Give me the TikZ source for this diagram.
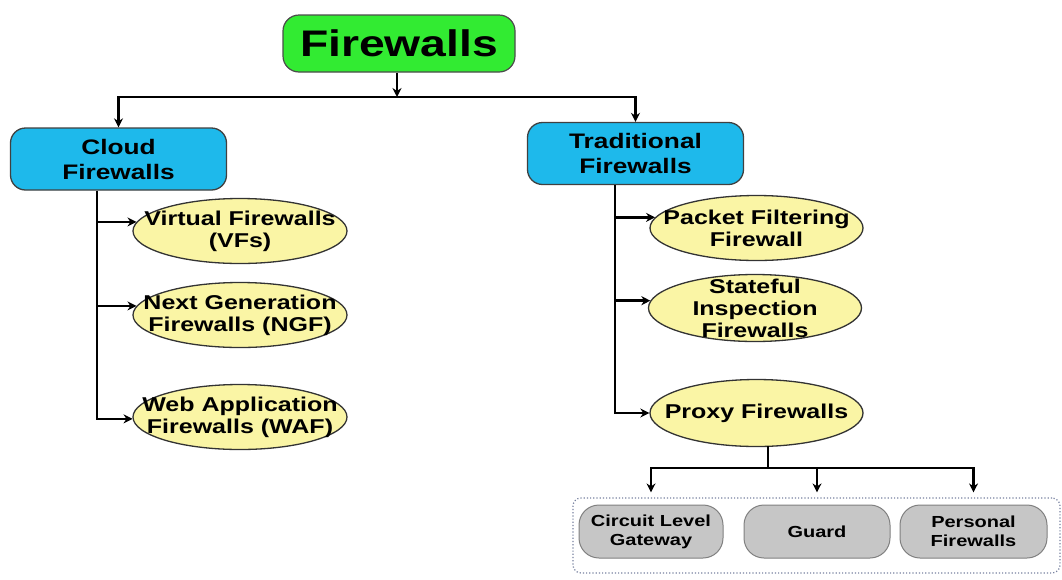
\documentclass[tikz,border=0pt]{standalone}
\usepackage{fontspec}
\setmainfont[FakeStretch=1.25]{Liberation Sans}
\usetikzlibrary{arrows.meta,shapes.geometric}

\definecolor{fwgreen}{RGB}{50,235,50}
\definecolor{fwblue}{RGB}{30,185,235}
\definecolor{fwyellow}{RGB}{250,245,165}
\definecolor{fwgray}{RGB}{198,198,198}
\definecolor{frameblue}{RGB}{120,130,160}

\begin{document}
\begin{tikzpicture}[x=1pt,y=-1pt,
  wire/.style={line width=2.6pt, line cap=rect},
  conn/.style={line width=2.6pt, -{Stealth[length=9pt,width=9pt]}},
  titlebox/.style={draw=black!70, line width=1.2pt, fill=fwgreen, rounded corners=16pt,
    minimum width=232pt, minimum height=57pt, inner sep=0pt,
    font=\bfseries\fontsize{37}{40}\selectfont},
  groupbox/.style={draw=black!75, line width=1.3pt, fill=fwblue, rounded corners=15pt,
    minimum width=216pt, minimum height=62pt, inner sep=0pt, align=center,
    font=\bfseries\fontsize{21}{25}\selectfont},
  leaf/.style={ellipse, draw=black!80, line width=1.3pt, fill=fwyellow,
    minimum width=213pt, minimum height=65pt, inner sep=0pt},
  leaftext/.style={align=center, inner sep=0pt, font=\bfseries\fontsize{20}{22}\selectfont},
  kindbox/.style={draw=black!50, line width=1pt, fill=fwgray, rounded corners=20pt,
    minimum width=145pt, minimum height=53pt, inner sep=0pt, align=center,
    font=\bfseries\fontsize{16}{19}\selectfont},
  groupframe/.style={draw=frameblue, dotted, line width=1.2pt, rounded corners=8pt,
    minimum width=487pt, minimum height=75pt, inner sep=0pt}
]
\useasboundingbox[fill=white] (0,0) rectangle (1062,579);

% root and the two families
\node[titlebox] (fw) at (399,43.5) {Firewalls};
\node[groupbox] (cloud) at (118.5,159) {Cloud\\Firewalls};
\node[groupbox] (trad) at (635.5,153.5) {Traditional\\Firewalls};

% cloud firewall kinds
\node[leaf, minimum width=214pt, label={[leaftext]center:{Virtual Firewalls\\(VFs)}}] (vf) at (240,231) {};
\node[leaf, minimum width=214pt, label={[leaftext]center:{Next Generation\\Firewalls (NGF)}}] (ngf) at (240,315) {};
\node[leaf, minimum width=214pt, label={[leaftext]center:{Web Application\\Firewalls (WAF)}}] (waf) at (240,417) {};

% traditional firewall kinds
\node[leaf, label={[leaftext]center:{Packet Filtering\\Firewall}}] (pf) at (756.5,228) {};
\node[leaf, minimum height=67pt, label={[leaftext]center:{Stateful\\Inspection\\Firewalls}}] (sif) at (755,308) {};
\node[leaf, minimum height=67pt, label={[leaftext]center:{Proxy Firewalls}}] (pxf) at (756.5,413) {};

% proxy firewall variants
\node[groupframe] (grp) at (816.5,535.5) {};
\node[kindbox, minimum width=144pt] (clg) at (651,531.5) {Circuit Level\\Gateway};
\node[kindbox, minimum width=146pt] (grd) at (817,531.5) {Guard};
\node[kindbox, minimum width=147pt] (pfw) at (973.5,531.5) {Personal\\Firewalls};

% root to families
\coordinate (hub) at (397,97);
\draw[conn] (fw.south -| hub) -- (hub);
\draw[wire] (cloud.north |- hub) -- (trad.north |- hub);
\draw[conn] (cloud.north |- hub) -- (cloud.north);
\draw[conn] (trad.north |- hub) -- (trad.north);

% cloud branch
\coordinate (cs) at (97,0);
\draw[conn] (cloud.south -| cs) |- (waf.181);
\draw[conn] (cs |- vf.175) -- (vf.175);
\draw[conn] (cs |- ngf.175) -- (ngf.175);

% traditional branch
\coordinate (ts) at (615,0);
\draw[conn] (trad.south -| ts) |- (pxf.west);
\draw[conn] (ts |- pf.174) -- (pf.174);
\draw[conn] (ts |- sif.176) -- (sif.176);

% proxy variants
\coordinate (split) at (768,468);
\draw[wire] (pxf.south -| split) -- (split);
\draw[wire] (clg.north |- split) -- (pfw.north |- split);
\draw[conn, shorten >=5pt] (clg.north |- split) -- (clg.north |- grp.north);
\draw[conn, shorten >=5pt] (grd.north |- split) -- (grd.north |- grp.north);
\draw[conn, shorten >=5pt] (pfw.north |- split) -- (pfw.north |- grp.north);
\end{tikzpicture}
\end{document}
